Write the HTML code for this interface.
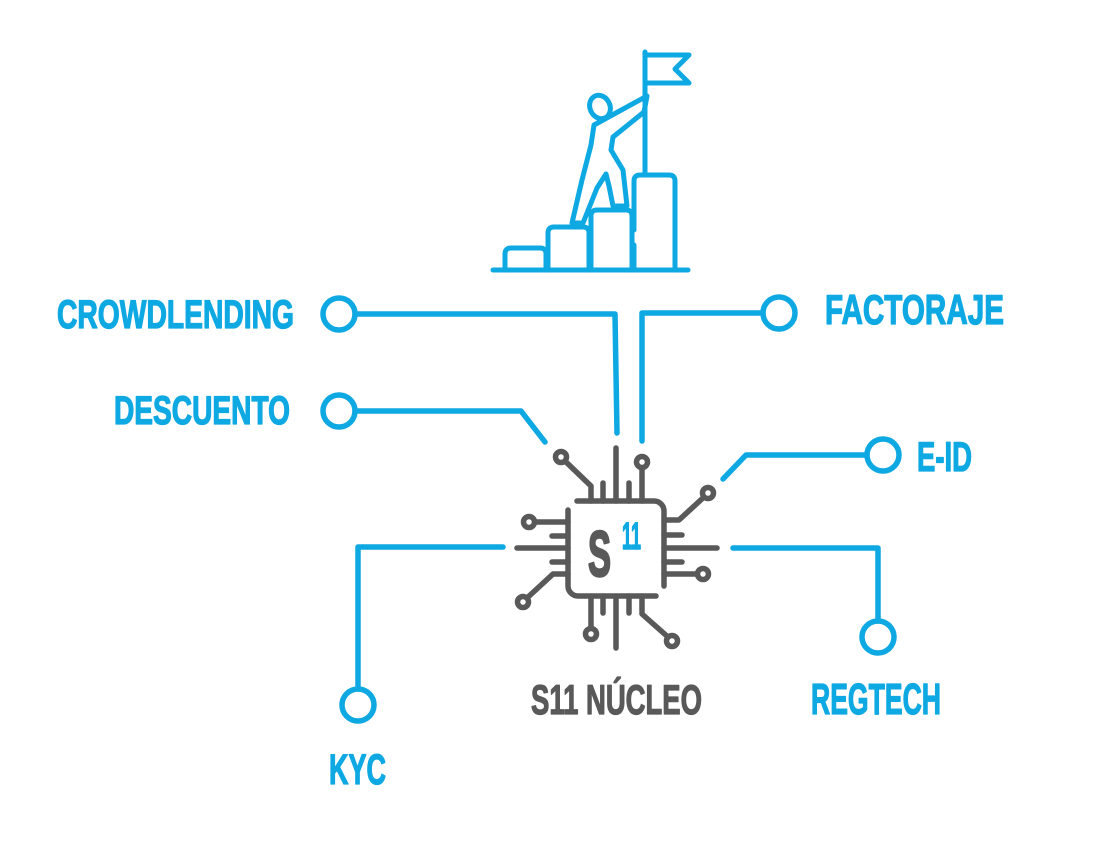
<!DOCTYPE html>
<html>
<head>
<meta charset="utf-8">
<style>
  html,body{margin:0;padding:0;background:#ffffff;}
  body{width:1106px;height:842px;overflow:hidden;}
  svg{display:block;}
  .t{font-family:"Liberation Sans Narrow","Liberation Sans",sans-serif;font-weight:bold;}
</style>
</head>
<body>
<svg width="1106" height="842" viewBox="0 0 1106 842" xmlns="http://www.w3.org/2000/svg">
  <rect width="1106" height="842" fill="#ffffff"/>

  <!-- Climber icon -->
  <g fill="none" stroke="#0ea8e2" stroke-width="5" stroke-linecap="round" stroke-linejoin="round">
    <line x1="493" y1="270" x2="688" y2="270"/>
    <path d="M505,270 V254 Q505,248 511,248 H540 Q546,248 546,254 V270"/>
    <path d="M548,270 V233 Q548,227 554,227 H583 Q589,227 589,233 V270"/>
    <path d="M591,270 V216 Q591,210 597,210 H626 Q632,210 632,216 V270"/>
    <path d="M634,230 V181 Q634,175 640,175 H669 Q675,175 675,181 V270"/>
    <path d="M634,245 V270"/>
    <line x1="645" y1="52" x2="645" y2="175"/>
    <path d="M645,55 H689 L675,69 L689,83 H645"/>
    <ellipse cx="600" cy="107" rx="10" ry="12" transform="rotate(-25 600 107)"/>
    <path d="M647,96 L594,125 L591,145 L582,180 L572,223 L583,223 L597,188 L606,174 L609,186 L613,206 L627,206 L623,170 L611,150 L613,137 L644,112 Z"/>
  </g>

  <!-- Blue connectors -->
  <g fill="none" stroke="#0ea8e2" stroke-width="5.5" stroke-linecap="round" stroke-linejoin="round">
    <circle cx="339" cy="314" r="16"/>
    <path d="M355,314 H615 L617,433"/>
    <circle cx="339" cy="411" r="16"/>
    <path d="M355,411 H521 L545,442"/>
    <circle cx="779" cy="313" r="16"/>
    <path d="M763,313 H642 V441"/>
    <circle cx="883" cy="455" r="16"/>
    <path d="M867,455 H746 L723,479"/>
    <path d="M503,547 H358 V689"/>
    <circle cx="358" cy="705" r="16"/>
    <path d="M733,548 H878 V621"/>
    <circle cx="878" cy="637" r="16"/>
  </g>

  <!-- Chip -->
  <g fill="none" stroke="#595959" stroke-width="5.5" stroke-linecap="round" stroke-linejoin="round">
    <path d="M577,501 H654 A10,10 0 0 1 664,511 V586"/>
    <path d="M568,510 V586 A10,10 0 0 0 578,596 H656"/>
    <!-- top pins -->
    <circle cx="561" cy="457" r="5.5"/>
    <path d="M565,461 L591,486 V501"/>
    <path d="M603,483 V501"/>
    <path d="M616,448 V501"/>
    <path d="M629,483 V501"/>
    <circle cx="642" cy="462" r="5.5"/>
    <path d="M642,468 V501"/>
    <!-- left pins -->
    <circle cx="529" cy="522" r="5.5"/>
    <path d="M535,522 H568"/>
    <path d="M552,536 H568"/>
    <path d="M517,548 H568"/>
    <path d="M552,562 H568"/>
    <path d="M568,574 H553 L527,598"/>
    <circle cx="523" cy="602" r="5.5"/>
    <!-- right pins -->
    <path d="M664,520 H679 L704,497"/>
    <circle cx="708" cy="493" r="5.5"/>
    <path d="M664,535 H682"/>
    <path d="M664,548 H717"/>
    <path d="M664,562 H682"/>
    <path d="M664,574 H697"/>
    <circle cx="703" cy="574" r="5.5"/>
    <!-- bottom pins -->
    <path d="M591,596 V628"/>
    <circle cx="591" cy="634" r="5.5"/>
    <path d="M603,596 V613"/>
    <path d="M616,596 V648"/>
    <path d="M629,596 V613"/>
    <path d="M642,596 V614 L668,637"/>
    <circle cx="672" cy="641" r="5.5"/>
  </g>
  <text class="t" x="588" y="576" font-size="64" fill="#595959" stroke="#595959" stroke-width="2.5" stroke-linejoin="round" textLength="23" lengthAdjust="spacingAndGlyphs">S</text>
  <text class="t" x="622" y="549" font-size="38" fill="#0ea8e2" stroke="#0ea8e2" stroke-width="1.5" stroke-linejoin="round" textLength="19" lengthAdjust="spacingAndGlyphs">11</text>

  <!-- Labels -->
  <g class="t" fill="#0ea8e2" stroke="#0ea8e2" stroke-width="1.3" stroke-linejoin="round">
    <text x="57" y="328" font-size="40" textLength="237" lengthAdjust="spacingAndGlyphs">CROWDLENDING</text>
    <text x="114" y="424" font-size="40" textLength="176" lengthAdjust="spacingAndGlyphs">DESCUENTO</text>
    <text x="825" y="324" font-size="42" textLength="179" lengthAdjust="spacingAndGlyphs">FACTORAJE</text>
    <text x="917" y="471" font-size="42" textLength="55" lengthAdjust="spacingAndGlyphs">E-ID</text>
    <text x="329" y="784" font-size="43" textLength="57" lengthAdjust="spacingAndGlyphs">KYC</text>
    <text x="811" y="714" font-size="44" textLength="130" lengthAdjust="spacingAndGlyphs">REGTECH</text>
  </g>
  <text class="t" x="531" y="714" font-size="42" fill="#595959" stroke="#595959" stroke-width="1.3" stroke-linejoin="round" textLength="171" lengthAdjust="spacingAndGlyphs">S11 NÚCLEO</text>
</svg>
</body>
</html>
